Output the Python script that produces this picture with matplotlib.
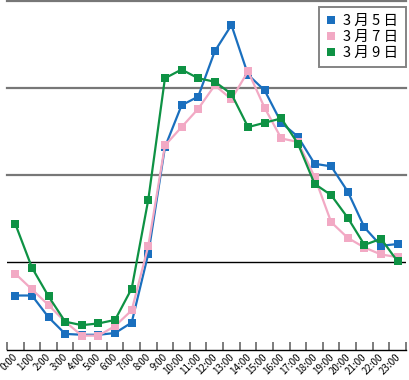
import numpy as np
import matplotlib
matplotlib.use("Agg")
import matplotlib.pyplot as plt
import matplotlib.transforms as mtransforms

plt.rcParams['font.family'] = ['Noto Sans CJK JP', 'DejaVu Sans']

hours = [f"{h}:00" for h in range(24)]
series_names = ["3 月 5 日", "3 月 7 日", "3 月 9 日"]
mar5 = [62, 62, 37, 18, 17, 17, 19, 31, 110, 232, 280, 290, 342, 372, 315, 297,
        260, 244, 213, 210, 181, 140, 119, 121]
mar7 = [87, 69, 51, 32, 16, 16, 27, 45, 119, 234, 255, 276, 303, 287, 319, 277,
        242, 238, 198, 146, 128, 117, 109, 106]
mar9 = [144, 94, 61, 32, 28, 30, 34, 70, 172, 311, 321, 311, 307, 293, 255, 260,
        265, 236, 190, 177, 151, 120, 127, 101]
colors = ["#1a6fbe", "#f2a9c4", "#0e9244"]
gridlines = [100, 200, 300, 400]

fig = plt.figure(figsize=(4.1, 3.8), dpi=100)
ax = fig.add_axes([7/410, 1 - 349.6/380, 399/410, 349.0/380])

x = np.arange(len(hours))
for vals, name, c in zip([mar5, mar7, mar9], series_names, colors):
    ax.plot(x, vals, color=c, lw=1.6, marker='s', markersize=5.5,
            markeredgewidth=0, label=name, zorder=3)

for i, g in enumerate(gridlines):
    if i == 0:
        ax.axhline(g, color='black', lw=1.0, zorder=1)
    else:
        ax.axhline(g, color='#777777', lw=1.6, zorder=1, clip_on=False)

ax.set_xlim(-0.5, len(hours) - 0.5)
ax.set_ylim(0, 400)
ax.set_yticks([])
for s in ['left', 'right', 'top']:
    ax.spines[s].set_visible(False)
ax.spines['bottom'].set_color('black')
ax.spines['bottom'].set_linewidth(1.0)

ax.set_xticks(x)
ax.set_xticklabels(hours, rotation=45, ha='right', va='top', fontsize=7)
ax.tick_params(axis='x', which='major', length=0, pad=1.5)
ax.set_xticks(np.arange(-0.5, len(hours), 1), minor=True)
ax.tick_params(axis='x', which='minor', direction='in', length=6,
               color='#666666', width=1.2)
offset = mtransforms.ScaledTranslation(4.5/100, 0, fig.dpi_scale_trans)
for lab in ax.get_xticklabels():
    lab.set_transform(lab.get_transform() + offset)

leg = ax.legend(loc='upper right', bbox_to_anchor=(0.9995, 0.982), fontsize=10.5,
                frameon=True, fancybox=False, handlelength=0.6,
                handletextpad=0.55, labelspacing=0.12, borderpad=0.5,
                borderaxespad=0.0, markerscale=1.1)
leg.get_frame().set_edgecolor('#666666')
leg.get_frame().set_linewidth(1.4)
for h in leg.legend_handles:
    h.set_linestyle('none')

fig.savefig("out.png", dpi=100)
